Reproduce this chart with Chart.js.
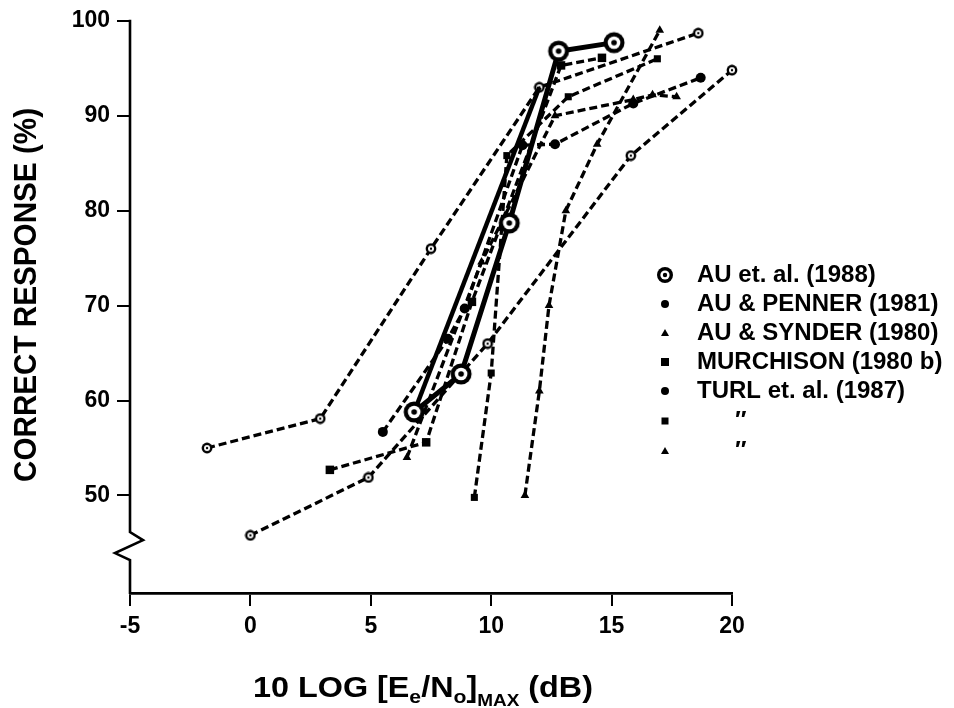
<!DOCTYPE html>
<html><head><meta charset="utf-8">
<style>html,body{margin:0;padding:0;background:#fff;} #wrap{width:954px;height:708px;}</style>
<script src="https://cdn.jsdelivr.net/npm/chart.js@4"></script>
</head><body><div id="wrap"><canvas id="c" width="954" height="708"></canvas></div>
<script>
// ---- data ----
const seriesNames = ['AU et. al. (1988)', 'AU & PENNER (1981)', 'AU & SYNDER (1980)', 'MURCHISON (1980 b)', 'TURL et. al. (1987)', '\u2033', '\u2033'];
const xTicks = [-5, 0, 5, 10, 15, 20];
const yTicks = [50, 60, 70, 80, 90, 100];

const au1988X = [6.8, 8.75, 10.75, 12.8, 15.1];
const au1988Y = [58.8, 62.8, 78.7, 96.8, 97.7];
const au1988bX = [6.8, 12.0];
const au1988bY = [58.8, 93.0];

const pennerAX = [-1.8, 2.9, 7.5, 12.0, 18.6];
const pennerAY = [55.0, 58.1, 76.0, 93.0, 98.7];
const pennerBX = [0, 4.9, 9.85, 15.8, 20.0];
const pennerBY = [45.8, 51.9, 66.0, 85.8, 94.8];

const synderX = [11.4, 12.0, 12.4, 13.1, 14.4, 17.0];
const synderY = [50.0, 61.0, 70.0, 80.0, 87.0, 99.0];

const murchX = [3.3, 7.3, 9.2, 12.9, 14.6];
const murchY = [52.7, 55.6, 70.4, 95.3, 96.1];

const turlCircX = [5.5, 8.2, 8.9, 11.3, 12.65, 15.9, 18.7];
const turlCircY = [56.7, 66.5, 69.7, 86.9, 87.0, 91.3, 94.0];
const turlSqX = [9.3, 10.0, 10.65, 13.2, 16.9];
const turlSqY = [49.8, 62.9, 85.8, 92.0, 96.0];
const turlTriX = [6.5, 9.6, 12.65, 15.9, 16.7, 17.7];
const turlTriY = [54.0, 74.6, 90.0, 91.7, 92.2, 92.0];

// ---- helpers ----
const pts = (xs, ys) => xs.map((x, i) => ({ x: x, y: ys[i] }));
function ringCanvas(size, rOut, rIn, rDot) {
  const c = document.createElement('canvas');
  c.width = size; c.height = size;
  const g = c.getContext('2d'), m = size / 2;
  g.fillStyle = '#000'; g.beginPath(); g.arc(m, m, rOut, 0, Math.PI * 2); g.fill();
  g.fillStyle = '#fff'; g.beginPath(); g.arc(m, m, rIn, 0, Math.PI * 2); g.fill();
  g.fillStyle = '#000'; g.beginPath(); g.arc(m, m, rDot, 0, Math.PI * 2); g.fill();
  return c;
}
const bull = ringCanvas(24, 10.5, 6.3, 2.8);
const bullLegend = ringCanvas(18, 8, 4.6, 2.2);
const smallRing = ringCanvas(12, 5.4, 3.0, 1.2);

const FONT = "'Liberation Sans', Arial, 'DejaVu Sans', sans-serif";
const dashed = {
  borderColor: '#000', backgroundColor: '#000', borderWidth: 3.3, borderDash: [8, 4],
  showLine: true, tension: 0, clip: false, pointBorderColor: '#000', pointBackgroundColor: '#000', pointBorderWidth: 0
};

const datasets = [
  { label: seriesNames[0], data: pts(au1988X, au1988Y), borderColor: '#000', borderWidth: 5, showLine: true, tension: 0, clip: false, pointStyle: bull, pointRadius: 10 },
  { label: '', data: pts(au1988bX, au1988bY), borderColor: '#000', borderWidth: 4.5, showLine: true, tension: 0, clip: false, pointRadius: 0 },
  Object.assign({ label: seriesNames[1], data: pts(pennerAX, pennerAY), pointStyle: smallRing, pointRadius: 5 }, dashed),
  Object.assign({ label: seriesNames[1], data: pts(pennerBX, pennerBY), pointStyle: smallRing, pointRadius: 5 }, dashed),
  Object.assign({ label: seriesNames[2], data: pts(synderX, synderY), pointStyle: 'triangle', pointRadius: 5 }, dashed),
  Object.assign({ label: seriesNames[3], data: pts(murchX, murchY), pointStyle: 'rect', pointRadius: 6 }, dashed),
  Object.assign({ label: seriesNames[4], data: pts(turlCircX, turlCircY), pointStyle: 'circle', pointRadius: 5 }, dashed),
  Object.assign({ label: seriesNames[5], data: pts(turlSqX, turlSqY), pointStyle: 'rect', pointRadius: 5 }, dashed),
  Object.assign({ label: seriesNames[6], data: pts(turlTriX, turlTriY), pointStyle: 'triangle', pointRadius: 5 }, dashed)
];

// ---- decorations: y axis with break, titles, legend ----
const deco = {
  id: 'deco',
  beforeDatasetsDraw(chart) {
    const ctx = chart.ctx, a = chart.chartArea, ys = chart.scales.y;
    const L = a.left, yB = ys.getPixelForValue(45.2);
    ctx.save();
    ctx.strokeStyle = '#000'; ctx.lineWidth = 2.6; ctx.lineJoin = 'miter';
    ctx.beginPath();
    ctx.moveTo(L, a.top - 1);
    ctx.lineTo(L, yB - 9);
    ctx.lineTo(L + 13, yB - 1);
    ctx.lineTo(L - 15, yB + 12);
    ctx.lineTo(L, yB + 19);
    ctx.lineTo(L, a.bottom + 1);
    ctx.stroke();
    ctx.restore();
  },
  afterDraw(chart) {
    const ctx = chart.ctx;
    ctx.save();
    ctx.fillStyle = '#000';
    // y title
    ctx.save();
    ctx.translate(27, 295);
    ctx.rotate(-Math.PI / 2);
    ctx.font = 'bold 31px ' + FONT;
    const yt = 'CORRECT RESPONSE (%)';
    const yw = ctx.measureText(yt).width;
    ctx.scale(374 / yw, 1);
    ctx.textAlign = 'center'; ctx.textBaseline = 'middle';
    ctx.fillText(yt, 0, 0);
    ctx.restore();
    // x title with subscripts
    const segs = [
      { t: '10 LOG [E', s: 29, dy: 0 }, { t: 'e', s: 19, dy: 6 }, { t: '/N', s: 29, dy: 0 },
      { t: 'o', s: 19, dy: 6 }, { t: ']', s: 29, dy: 0 }, { t: 'MAX', s: 17, dy: 9 }, { t: ' (dB)', s: 29, dy: 0 }
    ];
    let tw = 0;
    segs.forEach(g => { ctx.font = 'bold ' + g.s + 'px ' + FONT; g.w = ctx.measureText(g.t).width; tw += g.w; });
    const sx = 340 / tw;
    ctx.save();
    ctx.translate(253, 697);
    ctx.scale(sx, 1);
    ctx.textBaseline = 'alphabetic'; ctx.textAlign = 'left';
    let cx = 0;
    segs.forEach(g => { ctx.font = 'bold ' + g.s + 'px ' + FONT; ctx.fillText(g.t, cx, g.dy); cx += g.w; });
    ctx.restore();
    // legend
    const rows = [275, 304, 333, 362, 391, 421, 451];
    const mx = 665;
    ctx.font = 'bold 24px ' + FONT;
    ctx.textBaseline = 'middle'; ctx.textAlign = 'left';
    rows.forEach((ry, i) => {
      if (i === 0) ctx.drawImage(bullLegend, mx - 9, ry - 9);
      else if (i === 1) { ctx.beginPath(); ctx.arc(mx, ry, 4, 0, Math.PI * 2); ctx.fill(); }
      else if (i === 2 || i === 6) { ctx.beginPath(); ctx.moveTo(mx, ry - 4); ctx.lineTo(mx + 4, ry + 3); ctx.lineTo(mx - 4, ry + 3); ctx.closePath(); ctx.fill(); }
      else if (i === 3) ctx.fillRect(mx - 4, ry - 4, 8, 8);
      else if (i === 4) { ctx.beginPath(); ctx.arc(mx, ry, 4, 0, Math.PI * 2); ctx.fill(); }
      else if (i === 5) ctx.fillRect(mx - 3.5, ry - 3.5, 7, 7);
      const tx = (i >= 5) ? 735 : 697;
      ctx.fillText(seriesNames[i], tx, ry);
    });
    ctx.restore();
  }
};

new Chart(document.getElementById('c'), {
  type: 'scatter',
  data: { datasets: datasets },
  options: {
    responsive: false,
    devicePixelRatio: 1,
    animation: false,
    layout: { padding: { top: 18, right: 222, left: 0, bottom: 0 } },
    plugins: { legend: { display: false }, tooltip: { enabled: false } },
    scales: {
      x: {
        type: 'linear', min: -5, max: 20,
        afterBuildTicks: s => { s.ticks = xTicks.map(v => ({ value: v })); },
        afterFit: s => { s.height = 115; },
        grid: { drawOnChartArea: false, drawTicks: true, tickLength: 13, lineWidth: 2, color: '#000' },
        border: { display: true, width: 2.8, color: '#000' },
        ticks: { color: '#000', padding: 7, font: { family: FONT, size: 23, weight: 'bold' }, maxRotation: 0 }
      },
      y: {
        type: 'linear', min: 39.73, max: 100,
        afterBuildTicks: s => { s.ticks = yTicks.map(v => ({ value: v })); },
        afterFit: s => { s.width = 130; },
        grid: { drawOnChartArea: false, drawTicks: true, tickLength: 13, lineWidth: 2, color: '#000' },
        border: { display: false },
        ticks: { color: '#000', padding: 7, font: { family: FONT, size: 23, weight: 'bold' } }
      }
    }
  },
  plugins: [deco]
});
</script>
</body></html>
